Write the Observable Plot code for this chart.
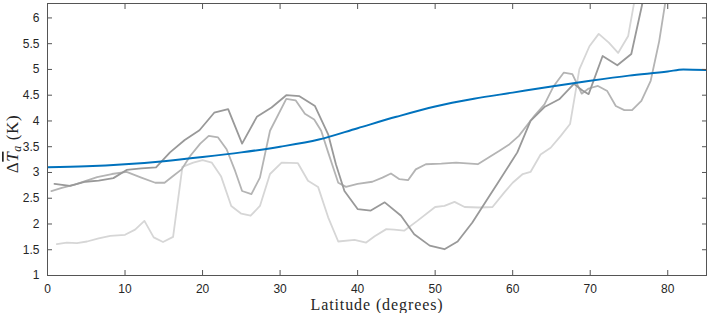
<!DOCTYPE html>
<html><head><meta charset="utf-8">
<script src="https://cdn.jsdelivr.net/npm/d3@7"></script>
<script src="https://cdn.jsdelivr.net/npm/@observablehq/plot@0.6"></script>
<style>body{margin:0;background:#fff;}</style>
</head><body><div id="chart"></div>
<script>
// Blue smooth curve
const blueLat = [0, 5, 10, 15, 20, 25, 30, 35, 40, 45, 50, 55, 60, 65, 70, 75, 80, 82, 85];
const blueVal = [3.10, 3.12, 3.16, 3.22, 3.30, 3.39, 3.50, 3.64, 3.86, 4.08, 4.28, 4.43, 4.55, 4.67, 4.78, 4.88, 4.96, 5.00, 4.99];

// Dark gray series
const darkLat = [0.9, 2.9, 4.9, 6.6, 8.5, 10.2, 12.1, 14.0, 15.8, 17.7, 19.6, 21.5, 23.3, 25.1, 27.0, 28.9, 30.8, 32.5, 34.5, 36.2, 37.2, 38.3, 40.0, 41.7, 43.5, 45.6, 47.3, 49.3, 51.2, 52.9, 54.8, 56.6, 58.1, 60.6, 62.3, 64.1, 66.0, 67.9, 69.0, 69.8, 71.6, 73.5, 75.3, 76.7, 78.0];
const darkVal = [2.78, 2.74, 2.82, 2.84, 2.89, 3.05, 3.08, 3.10, 3.39, 3.63, 3.82, 4.16, 4.23, 3.56, 4.08, 4.26, 4.50, 4.48, 4.29, 3.74, 3.16, 2.64, 2.29, 2.26, 2.42, 2.16, 1.80, 1.58, 1.51, 1.66, 2.03, 2.45, 2.80, 3.39, 4.00, 4.27, 4.42, 4.72, 4.59, 4.52, 5.26, 5.08, 5.30, 6.26, 7.60];

// Medium gray series
const midLat = [0.5, 1.85, 3.6, 6.4, 8.3, 10.2, 12.1, 13.9, 15.1, 16.2, 17.3, 18.4, 19.7, 20.8, 22.0, 23.1, 24.2, 25.1, 26.3, 27.4, 28.7, 30.8, 32.0, 33.2, 34.4, 35.3, 36.2, 37.5, 38.5, 40.0, 41.9, 43.2, 44.3, 45.4, 46.5, 47.5, 48.8, 50.8, 52.7, 55.5, 57.0, 58.3, 59.6, 60.8, 62.8, 64.1, 65.3, 66.6, 67.7, 68.9, 69.8, 71.0, 72.2, 73.3, 74.4, 75.4, 76.6, 77.8, 78.9, 80.0];
const midVal = [2.64, 2.70, 2.77, 2.91, 2.97, 3.01, 2.90, 2.80, 2.80, 2.93, 3.06, 3.32, 3.56, 3.71, 3.68, 3.45, 3.03, 2.64, 2.58, 2.90, 3.81, 4.43, 4.40, 4.14, 4.03, 3.81, 3.39, 2.80, 2.72, 2.78, 2.82, 2.90, 2.98, 2.87, 2.85, 3.06, 3.16, 3.17, 3.19, 3.16, 3.30, 3.42, 3.55, 3.71, 4.10, 4.32, 4.68, 4.94, 4.91, 4.53, 4.63, 4.68, 4.58, 4.29, 4.21, 4.21, 4.39, 4.78, 5.55, 6.60];

// Light gray series
const lightLat = [1.2, 2.5, 3.8, 5.1, 6.6, 8.1, 10.0, 11.3, 12.5, 13.7, 14.9, 16.2, 17.4, 18.8, 20.0, 21.2, 22.4, 23.7, 25.0, 26.2, 27.4, 28.7, 30.2, 32.3, 33.6, 34.9, 36.2, 37.5, 39.6, 41.1, 42.2, 43.7, 44.7, 46.0, 47.7, 50.0, 51.2, 52.5, 53.8, 55.7, 57.4, 58.9, 60.0, 61.3, 62.3, 63.6, 64.9, 66.2, 67.4, 68.6, 69.9, 71.1, 72.4, 73.6, 74.9, 76.5];
const lightVal = [1.61, 1.64, 1.63, 1.66, 1.72, 1.77, 1.79, 1.89, 2.06, 1.74, 1.65, 1.75, 3.11, 3.19, 3.24, 3.19, 2.92, 2.35, 2.20, 2.16, 2.35, 2.97, 3.19, 3.18, 2.84, 2.72, 2.13, 1.66, 1.69, 1.64, 1.76, 1.90, 1.89, 1.87, 2.06, 2.33, 2.35, 2.43, 2.33, 2.32, 2.33, 2.61, 2.80, 2.97, 3.01, 3.35, 3.48, 3.71, 3.94, 5.00, 5.45, 5.69, 5.52, 5.32, 5.65, 7.00];

const xTicks = [0, 10, 20, 30, 40, 50, 60, 70, 80];
const yTicks = [1, 1.5, 2, 2.5, 3, 3.5, 4, 4.5, 5, 5.5, 6];
const xLabel = "Latitude (degrees)";

const zip = (a, b) => a.map((x, i) => ({x, y: b[i]}));
const blue = zip(blueLat, blueVal);
const dark = zip(darkLat, darkVal);
const mid = zip(midLat, midVal);
const light = zip(lightLat, lightVal);

const axisColor = "#555";
const textColor = "#262626";
const serif = "'Liberation Serif', 'Times New Roman', serif";

const chart = Plot.plot({
  width: 708,
  height: 313,
  marginLeft: 47,
  marginRight: 2,
  marginTop: 3,
  marginBottom: 38,
  style: {fontFamily: "'Liberation Sans', Arial, sans-serif", fontSize: "12px", color: textColor, background: "#fff"},
  x: {domain: [0, 85]},
  y: {domain: [1, 6.28]},
  marks: [
    Plot.line(light, {x: "x", y: "y", stroke: "#d6d6d6", strokeWidth: 1.8, clip: true}),
    Plot.line(mid, {x: "x", y: "y", stroke: "#b4b4b4", strokeWidth: 1.8, clip: true}),
    Plot.line(dark, {x: "x", y: "y", stroke: "#999999", strokeWidth: 1.8, clip: true}),
    Plot.line(blue, {x: "x", y: "y", stroke: "#0072bd", strokeWidth: 2, curve: "monotone-x", clip: true}),
    Plot.frame({stroke: axisColor, strokeWidth: 1}),
    Plot.axisX(xTicks, {anchor: "bottom", tickSize: -5, tickPadding: 13.5, label: null, stroke: axisColor, fill: textColor}),
    Plot.axisX(xTicks, {anchor: "top", tickSize: -5, tickFormat: () => "", label: null, stroke: axisColor}),
    Plot.axisY(yTicks, {anchor: "left", tickSize: -5, tickPadding: 13, label: null, stroke: axisColor, fill: textColor, tickFormat: d => String(d)}),
    Plot.axisY(yTicks, {anchor: "right", tickSize: -5, tickFormat: () => "", label: null, stroke: axisColor}),
    Plot.text([xLabel], {text: d => d, frameAnchor: "bottom", dy: 34, lineAnchor: "bottom", fontFamily: serif, fontSize: 16, fill: textColor})
  ]
});

document.getElementById("chart").appendChild(chart);

const svg = d3.select(chart);
// widen x label letter spacing to match the LaTeX look
svg.selectAll("text").filter(function() { return this.textContent === xLabel; })
  .style("letter-spacing", "0.9px").style("font-family", serif);

// Y axis label: ΔT̄ₐ (K)
const t = svg.append("text")
  .attr("transform", "translate(18,144) rotate(-90)")
  .attr("text-anchor", "middle")
  .style("font-family", serif)
  .style("font-size", "17px")
  .style("letter-spacing", "0.6px")
  .attr("fill", textColor);
t.append("tspan").text("Δ");
t.append("tspan").attr("font-style", "italic").style("text-decoration", "overline").text("T");
t.append("tspan").attr("font-style", "italic").attr("font-size", "12px").attr("dy", "3").text("a");
t.append("tspan").attr("dy", "-3").text(" (K)");
</script>
</body></html>
